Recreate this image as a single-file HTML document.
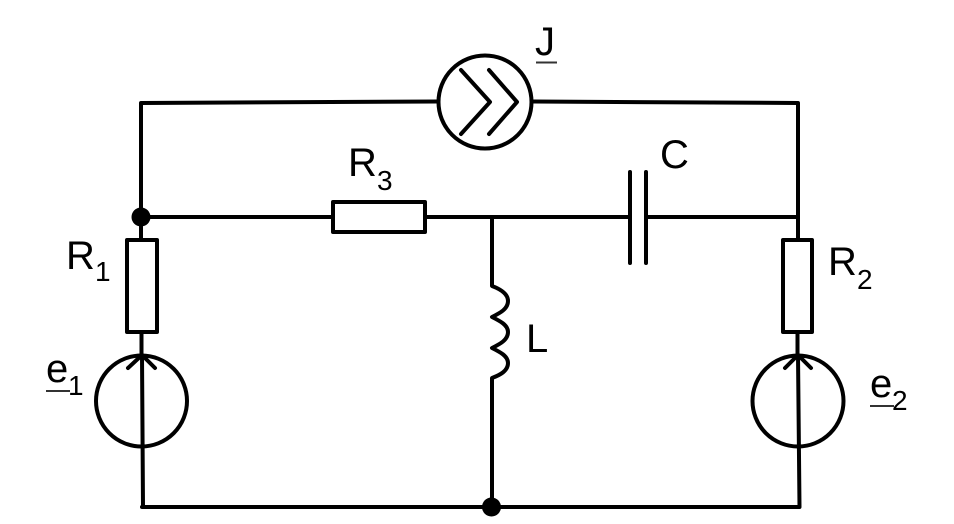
<!DOCTYPE html>
<html>
<head>
<meta charset="utf-8">
<style>
html,body{margin:0;padding:0;background:#fff;width:954px;height:524px;overflow:hidden}
svg{display:block}
text{font-family:"Liberation Sans",sans-serif;fill:#000}
.l{font-size:40px}
.s{font-size:28px}
</style>
</head>
<body>
<svg width="954" height="524" viewBox="0 0 954 524" xmlns="http://www.w3.org/2000/svg">
<g fill="none" stroke="#000" stroke-width="4" stroke-linecap="round" stroke-linejoin="round">
<!-- top wires -->
<path d="M141 217V103L438 101.500"/>
<path d="M533 101.500L798 103V240"/>
<!-- middle wires -->
<path d="M141 217H332"/>
<path d="M425 217H630"/>
<path d="M646 217H798"/>
<!-- capacitor -->
<path d="M630 172V263M646 172V263"/>
<!-- left branch -->
<path d="M141 217V240"/>
<rect x="127" y="240" width="30" height="92"/>
<path d="M141.500 332V355"/>
<circle cx="141.500" cy="401" r="45.500"/>
<path d="M142 355L143 507"/>
<path d="M128 368L142 355L155 368"/>
<!-- right branch -->
<rect x="783" y="240" width="29" height="92"/>
<path d="M797.500 332V355"/>
<circle cx="798" cy="401" r="45.500"/>
<path d="M798 355L799.500 507"/>
<path d="M785 368L798 355L811 368"/>
<!-- R3 -->
<rect x="333" y="202" width="92" height="30"/>
<!-- inductor -->
<path d="M492 217V286C500 289 508 294 508 301C508 309 500 313 492 317C500 321 508 325 508 332C508 340 500 344 492 348C500 352 508 356 508 363C508 371 500 375 492 378V507"/>
<!-- bottom -->
<path d="M142 507H799"/>
<!-- current source -->
<circle cx="485" cy="102" r="46.500"/>
<path d="M461 70L490 102L461 134"/>
<path d="M489 70L517 102L489 134"/>
</g>
<circle cx="141" cy="217" r="9.500" fill="#000"/>
<circle cx="491.500" cy="507" r="9.500" fill="#000"/>
<g>
<text class="l" x="535" y="55">J</text>
<rect x="536" y="61.500" width="21" height="2" fill="#333"/>
<text class="l" x="660" y="168">C</text>
<text class="l" x="348" y="176">R</text>
<text class="s" x="377" y="190">3</text>
<text class="l" x="66" y="269">R</text>
<text class="s" x="95" y="281">1</text>
<text class="l" x="828" y="275">R</text>
<text class="s" x="857" y="289">2</text>
<text class="l" x="526" y="352">L</text>
<text class="l" x="46" y="382">e</text>
<rect x="46" y="390" width="24" height="2" fill="#333"/>
<text class="s" x="68" y="395">1</text>
<text class="l" x="870" y="397">e</text>
<rect x="870" y="405" width="24" height="2" fill="#333"/>
<text class="s" x="892" y="410">2</text>
</g>
</svg>
</body>
</html>
